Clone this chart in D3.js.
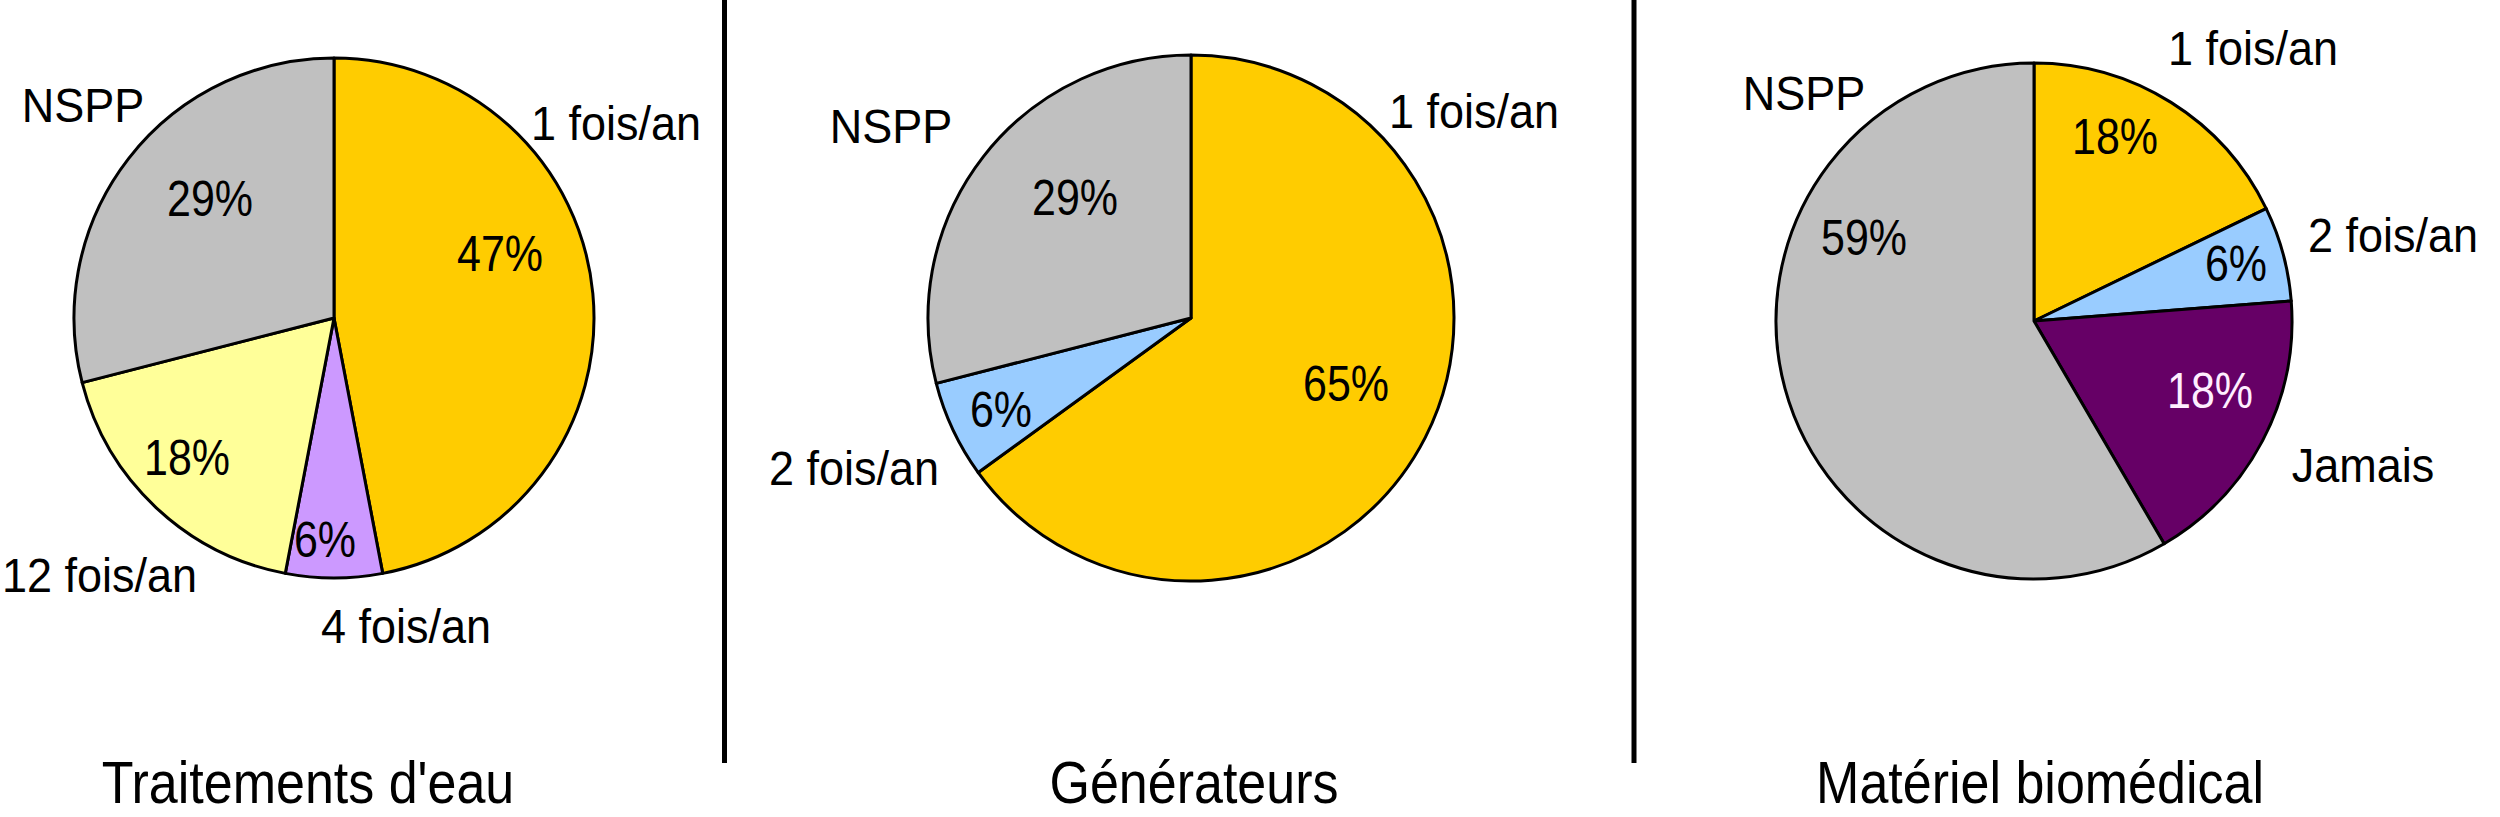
<!DOCTYPE html>
<html>
<head>
<meta charset="utf-8">
<script src="https://cdn.jsdelivr.net/npm/d3@7"></script>
<style>
  html, body { margin: 0; padding: 0; background: #fff; overflow: hidden; }
  svg { display: block; }
  text { font-family: "Liberation Sans", Arial, sans-serif; }
</style>
</head>
<body>
<svg id="chart" width="2500" height="817"></svg>
<script>
// ---- Data ----
const titles = ["Traitements d'eau", "Générateurs", "Matériel biomédical"];

const categories1 = ["1 fois/an", "4 fois/an", "12 fois/an", "NSPP"];
const values1 = [47, 6, 18, 29];

const categories2 = ["1 fois/an", "2 fois/an", "NSPP"];
const values2 = [65, 6, 29];

const categories3 = ["1 fois/an", "2 fois/an", "Jamais", "NSPP"];
const values3 = [18, 6, 18, 59];

// ---- Styles / layout ----
const colorOf = {
  "1 fois/an": "#FFCC00",
  "2 fois/an": "#99CCFF",
  "4 fois/an": "#CC99FF",
  "12 fois/an": "#FFFF99",
  "Jamais": "#660066",
  "NSPP": "#C0C0C0"
};
const pctColorOf = { "Jamais": "#FFEEFF" };

const layouts = [
  { cx: 334, cy: 318, r: 260, titleX: 308,
    pct: [[166, -47], [-9, 239], [-147, 157], [-124, -102]],
    cat: [[282, -178, "middle"], [72, 325, "middle"], [-332, 274, "start"], [-251, -196, "middle"]] },
  { cx: 1191, cy: 318, r: 263, titleX: 1194,
    pct: [[155, 83], [-190, 109], [-116, -103]],
    cat: [[283, -190, "middle"], [-337, 167, "middle"], [-300, -175, "middle"]] },
  { cx: 2034, cy: 321, r: 258, titleX: 2040,
    pct: [[81, -167], [202, -40], [176, 87], [-170, -66]],
    cat: [[219, -256, "middle"], [274, -69, "start"], [329, 161, "middle"], [-230, -211, "middle"]] }
];

const datasets = [
  { cats: categories1, vals: values1 },
  { cats: categories2, vals: values2 },
  { cats: categories3, vals: values3 }
];

const svg = d3.select("#chart");

// separators
[724.5, 1634].forEach(x => {
  svg.append("line")
    .attr("x1", x).attr("x2", x).attr("y1", 0).attr("y2", 763)
    .attr("stroke", "#000").attr("stroke-width", 5);
});

const pie = d3.pie().sort(null).value(d => d.v);

datasets.forEach((ds, i) => {
  const L = layouts[i];
  const data = ds.cats.map((c, j) => ({ c, v: ds.vals[j] }));
  const arcs = pie(data);
  const arc = d3.arc().innerRadius(0).outerRadius(L.r);
  const g = svg.append("g").attr("transform", `translate(${L.cx},${L.cy})`);

  g.selectAll("path").data(arcs).enter().append("path")
    .attr("d", arc)
    .attr("fill", d => colorOf[d.data.c])
    .attr("stroke", "#000")
    .attr("stroke-width", 3)
    .attr("stroke-linejoin", "round");

  // percentage labels
  g.selectAll("text.pct").data(arcs).enter().append("text")
    .attr("class", "pct")
    .attr("transform", (d, j) => `translate(${L.pct[j][0]},${L.pct[j][1]}) scale(1,1.15)`)
    .attr("text-anchor", "middle")
    .attr("font-size", 43)
    .attr("fill", d => pctColorOf[d.data.c] || "#000")
    .text(d => d.data.v + "%");

  // category labels
  g.selectAll("text.cat").data(arcs).enter().append("text")
    .attr("class", "cat")
    .attr("transform", (d, j) => `translate(${L.cat[j][0]},${L.cat[j][1]}) scale(1,1.07)`)
    .attr("text-anchor", (d, j) => L.cat[j][2])
    .attr("font-size", 45)
    .attr("fill", "#000")
    .text(d => d.data.c);

  // title
  svg.append("text")
    .attr("transform", `translate(${L.titleX},803) scale(1,1.13)`)
    .attr("text-anchor", "middle")
    .attr("font-size", 52)
    .attr("fill", "#000")
    .text(titles[i]);
});
</script>
</body>
</html>
